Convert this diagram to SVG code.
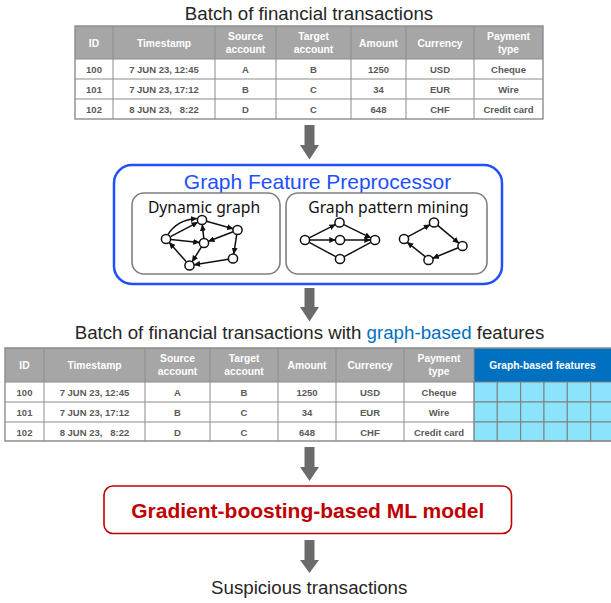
<svg xmlns="http://www.w3.org/2000/svg" width="611" height="603" viewBox="0 0 611 603">
<style>
.title{font-family:"Liberation Sans",Arial,sans-serif;font-size:18.7px;fill:#262626;text-anchor:middle}
.hd{font-family:"Liberation Sans",Arial,sans-serif;font-size:10.3px;font-weight:bold;fill:#fff;text-anchor:middle}
.bd{font-family:"Liberation Sans",Arial,sans-serif;font-size:9.5px;font-weight:bold;fill:#595959;text-anchor:middle;white-space:pre}
.hbg{fill:#a6a6a6}
.grid{stroke:#8c8c8c;stroke-width:1;fill:none}
.frame{stroke:#8c8c8c;stroke-width:1.4;fill:none}
.cell{fill:#8be4fb;stroke:#7f7f7f;stroke-width:1}
.bigarrow{fill:#6b6b6b}
.inner{fill:#fff;stroke:#7f7f7f;stroke-width:1.6}
.sub{font-family:"Noto Sans","Open Sans",sans-serif;font-size:15.7px;fill:#111;text-anchor:middle}
.node{fill:#fff;stroke:#111;stroke-width:1.5}
.e{stroke:#111;stroke-width:1.5;fill:none}
.ea{stroke:#111;stroke-width:1.5;fill:none;marker-end:url(#ah)}
</style>
<defs>
<marker id="ah" markerUnits="userSpaceOnUse" markerWidth="7" markerHeight="6" refX="6" refY="3" orient="auto">
<path d="M0,0 L6.5,3 L0,6 z" fill="#111"/>
</marker>
</defs>
<rect width="611" height="603" fill="#fff"/>

<g id="table1">
<text class="title" x="309" y="20">Batch of financial transactions</text>
<rect class="hbg" x="75" y="26" width="468" height="33"/>
<rect x="75" y="59" width="468" height="60" fill="#fff"/>
<path class="grid" d="M113,26V119M215,26V119M276,26V119M351,26V119M406,26V119M474,26V119M75,59H543M75,79H543M75,99H543"/>
<rect class="frame" x="75" y="26" width="468" height="93"/>
<text class="hd" x="94" y="46.5">ID</text>
<text class="hd" x="164" y="46.5">Timestamp</text>
<text class="hd" x="245.5" y="40">Source</text><text class="hd" x="245.5" y="52.5">account</text>
<text class="hd" x="313.5" y="40">Target</text><text class="hd" x="313.5" y="52.5">account</text>
<text class="hd" x="378.5" y="46.5">Amount</text>
<text class="hd" x="440" y="46.5">Currency</text>
<text class="hd" x="508.5" y="40">Payment</text><text class="hd" x="508.5" y="52.5">type</text>
<text class="bd" x="94" y="73">100</text><text class="bd" x="164" y="73">7 JUN 23, 12:45</text><text class="bd" x="245.5" y="73">A</text><text class="bd" x="313.5" y="73">B</text><text class="bd" x="378.5" y="73">1250</text><text class="bd" x="440" y="73">USD</text><text class="bd" x="508.5" y="73">Cheque</text>
<text class="bd" x="94" y="93">101</text><text class="bd" x="164" y="93">7 JUN 23, 17:12</text><text class="bd" x="245.5" y="93">B</text><text class="bd" x="313.5" y="93">C</text><text class="bd" x="378.5" y="93">34</text><text class="bd" x="440" y="93">EUR</text><text class="bd" x="508.5" y="93">Wire</text>
<text class="bd" x="94" y="113">102</text><text class="bd" x="164" y="113">8 JUN 23,   8:22</text><text class="bd" x="245.5" y="113">D</text><text class="bd" x="313.5" y="113">C</text><text class="bd" x="378.5" y="113">648</text><text class="bd" x="440" y="113">CHF</text><text class="bd" x="508.5" y="113">Credit card</text>
</g>

<g id="connectors">
<path class="bigarrow" d="M304.5,125H314.5V145H319V145L309.5,159.5L300,145H304.5Z"/>
<path class="bigarrow" d="M304.5,288H314.5V307H319L309.5,321.5L300,307H304.5Z"/>
<path class="bigarrow" d="M304.5,447H314.5V467H319L309.5,481L300,467H304.5Z"/>
<path class="bigarrow" d="M304.5,540H314.5V560H319L309.5,573L300,560H304.5Z"/>
</g>

<g id="preprocessor">
<rect x="114" y="165" width="388" height="119" rx="18" fill="#fff" stroke="#1f4fff" stroke-width="2.5"/>
<text x="317.5" y="188.5" font-family="Liberation Sans, Arial, sans-serif" font-size="21" fill="#1f4fff" text-anchor="middle">Graph Feature Preprocessor</text>
</g>

<g id="dynamic-graph">
<rect class="inner" x="132" y="193" width="148" height="81" rx="12"/>
<text class="sub" x="204" y="213">Dynamic graph</text>
<path class="ea" d="M168,234.6 Q177,220 196.8,218.6"/>
<path class="ea" d="M170.5,236.7 L197.6,222.3"/>
<path class="ea" d="M170.7,239.5 L199.3,242.5"/>
<path class="ea" d="M206.5,221.3 L233,228.7"/>
<path class="ea" d="M203.8,238.3 L202.3,224.8"/>
<path class="ea" d="M233.1,231.7 L208.5,241.3"/>
<path class="ea" d="M236.7,234.7 L233.8,253.8"/>
<path class="ea" d="M228.4,259.2 L194.2,264.8"/>
<path class="ea" d="M201.5,246.9 L192.2,261.6"/>
<path class="ea" d="M186.3,261.8 L169.3,242.6"/>
<circle class="node" cx="166" cy="239" r="4.6"/>
<circle class="node" cx="202" cy="220" r="4.6"/>
<circle class="node" cx="237.5" cy="230" r="4.6"/>
<circle class="node" cx="204" cy="243" r="4.6"/>
<circle class="node" cx="233" cy="258.5" r="4.6"/>
<circle class="node" cx="189.5" cy="265.5" r="4.6"/>
</g>

<g id="pattern-mining">
<rect class="inner" x="286" y="193" width="201" height="81" rx="12"/>
<text class="sub" x="388.5" y="213">Graph pattern mining</text>
<path class="ea" d="M309.2,237.9 L335.3,224.6"/>
<path class="ea" d="M309.7,240 L335.3,240"/>
<path class="e" d="M309.2,242.3 L335.8,256.7"/>
<path class="ea" d="M343.7,224.6 L370.8,237.9"/>
<path class="ea" d="M344.7,240 L370.3,240"/>
<path class="e" d="M344.2,256.7 L370.8,242.3"/>
<circle class="node" cx="305" cy="240" r="4.6"/>
<circle class="node" cx="339.5" cy="222.5" r="4.6"/>
<circle class="node" cx="340" cy="240" r="4.6"/>
<circle class="node" cx="340" cy="259" r="4.6"/>
<circle class="node" cx="375" cy="240" r="4.6"/>
<path class="ea" d="M408.1,236.7 L429.9,224.8"/>
<path class="ea" d="M437.7,225.4 L458.8,243.1"/>
<path class="ea" d="M458.2,247.8 L432.8,258.2"/>
<path class="ea" d="M425.2,256.6 L407.3,242.4"/>
<circle class="node" cx="404" cy="239" r="4.6"/>
<circle class="node" cx="434" cy="222.5" r="4.6"/>
<circle class="node" cx="462.5" cy="246" r="4.6"/>
<circle class="node" cx="428.5" cy="260" r="4.6"/>
</g>

<g id="table2">
<text class="title" x="309.5" y="339">Batch of financial transactions with <tspan fill="#0070c0">graph-based</tspan> features</text>
<rect class="hbg" x="5" y="348" width="469" height="34"/>
<rect x="5" y="382" width="469" height="59" fill="#fff"/>
<rect x="474" y="348" width="140" height="34" fill="#0070c0"/>
<g>
<rect class="cell" x="474" y="382" width="23.3" height="20"/><rect class="cell" x="497.3" y="382" width="23.3" height="20"/><rect class="cell" x="520.7" y="382" width="23.3" height="20"/><rect class="cell" x="544" y="382" width="23.3" height="20"/><rect class="cell" x="567.3" y="382" width="23.3" height="20"/><rect class="cell" x="590.7" y="382" width="23.3" height="20"/>
<rect class="cell" x="474" y="402" width="23.3" height="20"/><rect class="cell" x="497.3" y="402" width="23.3" height="20"/><rect class="cell" x="520.7" y="402" width="23.3" height="20"/><rect class="cell" x="544" y="402" width="23.3" height="20"/><rect class="cell" x="567.3" y="402" width="23.3" height="20"/><rect class="cell" x="590.7" y="402" width="23.3" height="20"/>
<rect class="cell" x="474" y="422" width="23.3" height="19"/><rect class="cell" x="497.3" y="422" width="23.3" height="19"/><rect class="cell" x="520.7" y="422" width="23.3" height="19"/><rect class="cell" x="544" y="422" width="23.3" height="19"/><rect class="cell" x="567.3" y="422" width="23.3" height="19"/><rect class="cell" x="590.7" y="422" width="23.3" height="19"/>
</g>
<path class="grid" d="M44,348V441M145,348V441M210,348V441M278,348V441M336,348V441M404,348V441M474,348V441M5,382H474M5,402H474M5,422H474"/>
<path class="frame" d="M614,348H5V441H614"/>
<text class="hd" x="24.5" y="369">ID</text>
<text class="hd" x="94.5" y="369">Timestamp</text>
<text class="hd" x="177.5" y="362">Source</text><text class="hd" x="177.5" y="375">account</text>
<text class="hd" x="244" y="362">Target</text><text class="hd" x="244" y="375">account</text>
<text class="hd" x="307" y="369">Amount</text>
<text class="hd" x="370" y="369">Currency</text>
<text class="hd" x="439" y="362">Payment</text><text class="hd" x="439" y="375">type</text>
<text class="hd" x="542.5" y="369">Graph-based features</text>
<text class="bd" x="24.5" y="396">100</text><text class="bd" x="94.5" y="396">7 JUN 23, 12:45</text><text class="bd" x="177.5" y="396">A</text><text class="bd" x="244" y="396">B</text><text class="bd" x="307" y="396">1250</text><text class="bd" x="370" y="396">USD</text><text class="bd" x="439" y="396">Cheque</text>
<text class="bd" x="24.5" y="416">101</text><text class="bd" x="94.5" y="416">7 JUN 23, 17:12</text><text class="bd" x="177.5" y="416">B</text><text class="bd" x="244" y="416">C</text><text class="bd" x="307" y="416">34</text><text class="bd" x="370" y="416">EUR</text><text class="bd" x="439" y="416">Wire</text>
<text class="bd" x="24.5" y="435.5">102</text><text class="bd" x="94.5" y="435.5">8 JUN 23,   8:22</text><text class="bd" x="177.5" y="435.5">D</text><text class="bd" x="244" y="435.5">C</text><text class="bd" x="307" y="435.5">648</text><text class="bd" x="370" y="435.5">CHF</text><text class="bd" x="439" y="435.5">Credit card</text>
</g>

<g id="ml-model">
<rect x="104" y="486" width="407.5" height="47.5" rx="9" fill="#fff" stroke="#c00000" stroke-width="1.6"/>
<text x="307.8" y="517.5" font-family="Liberation Sans, Arial, sans-serif" font-size="21" font-weight="bold" fill="#c00000" text-anchor="middle">Gradient-boosting-based ML model</text>
</g>

<g id="output">
<text class="title" x="309.2" y="593.5">Suspicious transactions</text>
</g>
</svg>
